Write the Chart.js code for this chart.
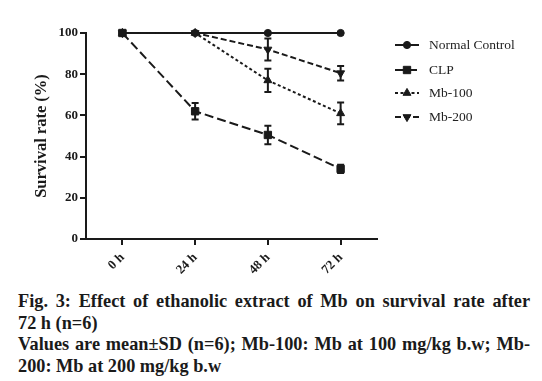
<!DOCTYPE html>
<html>
<head>
<meta charset="utf-8">
<script src="https://cdn.jsdelivr.net/npm/chart.js@4.4.0/dist/chart.umd.min.js"></script>
<style>
  html,body{margin:0;padding:0;background:#fff;}
  #wrap{position:relative;width:542px;height:381px;overflow:hidden;}
  #c{position:absolute;left:0;top:0;}
  .leg{position:absolute;left:429px;font:13.5px "Liberation Serif","Times New Roman",serif;color:#222;line-height:16px;white-space:nowrap;}
  #cap{position:absolute;left:18px;top:291px;width:512px;font:bold 18.3px "Liberation Serif","Times New Roman",serif;color:#1a1a1a;line-height:21.7px;}
  #cap div{white-space:nowrap;}
  #cap .j{text-align:justify;text-align-last:justify;}
</style>
</head>
<body>
<div id="wrap">
  <canvas id="c" width="542" height="285"></canvas>
  <div class="leg" style="top:37px">Normal Control</div>
  <div class="leg" style="top:62px">CLP</div>
  <div class="leg" style="top:85px">Mb-100</div>
  <div class="leg" style="top:109px">Mb-200</div>
  <div id="cap">
    <div class="j">Fig. 3: Effect of ethanolic extract of Mb on survival rate after</div>
    <div>72 h (n=6)</div>
    <div class="j">Values are mean±SD (n=6); Mb-100: Mb at 100 mg/kg b.w; Mb-</div>
    <div>200: Mb at 200 mg/kg b.w</div>
  </div>
</div>
<script>
const categories = ["0 h", "24 h", "48 h", "72 h"];
const seriesNames = ["Normal Control", "CLP", "Mb-100", "Mb-200"];
const normalControl = [100, 100, 100, 100];
const normalControlSD = [0, 0, 0, 0];
const clp = [100, 62, 50.5, 34];
const clpSD = [0, 4, 4.5, 2];
const mb100 = [100, 100, 77, 61];
const mb100SD = [0, 0, 5.7, 5.3];
const mb200 = [100, 100, 92, 80.5];
const mb200SD = [0, 0, 5.3, 3.5];
const yTicks = [0, 20, 40, 60, 80, 100];

const INK = '#1a1a1a';
const styles = [
  {point:'circle', rot:0, dash:[], r:3.6},
  {point:'rect', rot:0, dash:[9,4], r:5.2},
  {point:'triangle', rot:0, dash:[3,2.5], r:4.6},
  {point:'triangle', rot:180, dash:[6,3], r:4.6}
];
const values = [normalControl, clp, mb100, mb200];
const sds = [normalControlSD, clpSD, mb100SD, mb200SD];
const orders = [3, 0, 2, 1];

const datasets = values.map((v, i) => ({
  label: seriesNames[i],
  data: v,
  sd: sds[i],
  borderColor: INK,
  backgroundColor: INK,
  borderWidth: 2,
  borderDash: styles[i].dash,
  pointStyle: styles[i].point,
  pointRotation: styles[i].rot,
  pointRadius: styles[i].r,
  pointBorderWidth: 1,
  pointBackgroundColor: INK,
  pointBorderColor: INK,
  tension: 0,
  fill: false,
  order: orders[i],
  clip: false
}));

const errorBars = {
  id: 'errorBars',
  afterDatasetsDraw(chart) {
    const ctx = chart.ctx;
    const y = chart.scales.y;
    ctx.save();
    ctx.strokeStyle = INK;
    ctx.lineWidth = 2;
    ctx.setLineDash([]);
    chart.data.datasets.forEach((ds, di) => {
      const meta = chart.getDatasetMeta(di);
      meta.data.forEach((pt, j) => {
        const e = ds.sd[j];
        if (!e) return;
        const v = ds.data[j];
        const yt = y.getPixelForValue(v + e), yb = y.getPixelForValue(v - e);
        const x = pt.x, w = 3.5;
        ctx.beginPath();
        ctx.moveTo(x, yt); ctx.lineTo(x, yb);
        ctx.moveTo(x - w, yt); ctx.lineTo(x + w, yt);
        ctx.moveTo(x - w, yb); ctx.lineTo(x + w, yb);
        ctx.stroke();
      });
    });
    ctx.restore();
  }
};

const legendIcons = {
  id: 'legendIcons',
  afterDraw(chart) {
    const ctx = chart.ctx;
    const ys = [45, 70, 93, 117];
    chart.data.datasets.forEach((ds, i) => {
      const yy = ys[i];
      ctx.save();
      ctx.strokeStyle = INK;
      ctx.lineWidth = 2;
      ctx.setLineDash(ds.borderDash);
      ctx.beginPath();
      ctx.moveTo(395, yy); ctx.lineTo(419, yy);
      ctx.stroke();
      ctx.setLineDash([]);
      ctx.lineWidth = 1;
      ctx.fillStyle = INK;
      Chart.helpers.drawPoint(ctx, {pointStyle: ds.pointStyle, rotation: ds.pointRotation, radius: ds.pointRadius, borderWidth: 1}, 407, yy);
      ctx.restore();
    });
  }
};

new Chart(document.getElementById('c'), {
  type: 'line',
  data: { labels: categories, datasets },
  options: {
    responsive: false,
    animation: false,
    devicePixelRatio: 1,
    layout: { padding: { top: 33, right: 165, left: 0, bottom: 0 } },
    plugins: { legend: { display: false }, tooltip: { enabled: false } },
    scales: {
      x: {
        type: 'category',
        offset: true,
        grid: { display: true, drawOnChartArea: false, drawTicks: true, tickLength: 6, offset: false, color: INK, lineWidth: 2 },
        border: { display: true, color: INK, width: 2 },
        ticks: { color: INK, font: { family: '"Liberation Serif", serif', size: 13, weight: 'bold' }, minRotation: 45, maxRotation: 45, padding: 5 },
        afterFit(s) { s.height = 46; }
      },
      y: {
        min: 0, max: 100,
        afterBuildTicks(s) { s.ticks = yTicks.map(v => ({ value: v })); },
        grid: { display: true, drawOnChartArea: false, drawTicks: true, tickLength: 6, color: INK, lineWidth: 2 },
        border: { display: true, color: INK, width: 2 },
        ticks: { color: INK, font: { family: '"Liberation Serif", serif', size: 13, weight: 'bold' }, padding: 2 },
        title: { display: true, text: 'Survival rate (%)', color: INK, font: { family: '"Liberation Serif", serif', size: 16.5, weight: 'bold' }, padding: { top: 32, bottom: 0 } },
        afterFit(s) { s.width = 86; }
      }
    }
  },
  plugins: [errorBars, legendIcons]
});
</script>
</body>
</html>
